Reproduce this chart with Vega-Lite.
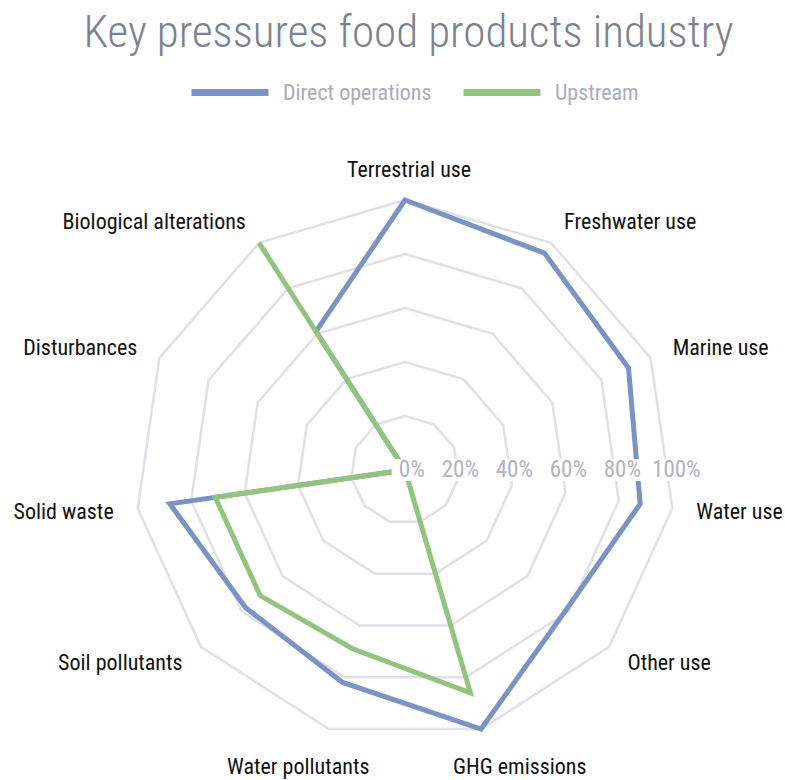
{
  "$schema": "https://vega.github.io/schema/vega-lite/v6.json",
  "width": 785,
  "height": 650,
  "padding": {"left": 0, "right": 0, "top": 10, "bottom": 0},
  "autosize": {"type": "pad"},
  "background": "white",
  "title": {
    "text": "Key pressures food products industry",
    "fontSize": 45,
    "font": "Roboto Condensed",
    "fontWeight": 300,
    "color": "#7b828e",
    "anchor": "middle",
    "dx": 16,
    "offset": -5
  },
  "config": {
    "view": {"stroke": null},
    "font": "Roboto Condensed"
  },
  "datasets": {
    "scores": [
      {"axis": "Terrestrial use", "series": "Direct operations", "value": 1.0},
      {"axis": "Freshwater use", "series": "Direct operations", "value": 0.955},
      {"axis": "Marine use", "series": "Direct operations", "value": 0.91},
      {"axis": "Water use", "series": "Direct operations", "value": 0.88},
      {"axis": "Other use", "series": "Direct operations", "value": 0.79},
      {"axis": "GHG emissions", "series": "Direct operations", "value": 1.0},
      {"axis": "Water pollutants", "series": "Direct operations", "value": 0.82},
      {"axis": "Soil pollutants", "series": "Direct operations", "value": 0.78},
      {"axis": "Solid waste", "series": "Direct operations", "value": 0.88},
      {"axis": "Disturbances", "series": "Direct operations", "value": 0.0},
      {"axis": "Biological alterations", "series": "Direct operations", "value": 0.61},
      {"axis": "Terrestrial use", "series": "Upstream", "value": 0.0},
      {"axis": "Freshwater use", "series": "Upstream", "value": 0.0},
      {"axis": "Marine use", "series": "Upstream", "value": 0.0},
      {"axis": "Water use", "series": "Upstream", "value": 0.0},
      {"axis": "Other use", "series": "Upstream", "value": 0.0},
      {"axis": "GHG emissions", "series": "Upstream", "value": 0.86},
      {"axis": "Water pollutants", "series": "Upstream", "value": 0.69},
      {"axis": "Soil pollutants", "series": "Upstream", "value": 0.71},
      {"axis": "Solid waste", "series": "Upstream", "value": 0.71},
      {"axis": "Disturbances", "series": "Upstream", "value": 0.0},
      {"axis": "Biological alterations", "series": "Upstream", "value": 1.0}
    ],
    "axes": [
      {"axis": "Terrestrial use", "levels": [0.2, 0.4, 0.6, 0.8, 1.0]},
      {"axis": "Freshwater use", "levels": [0.2, 0.4, 0.6, 0.8, 1.0]},
      {"axis": "Marine use", "levels": [0.2, 0.4, 0.6, 0.8, 1.0]},
      {"axis": "Water use", "levels": [0.2, 0.4, 0.6, 0.8, 1.0]},
      {"axis": "Other use", "levels": [0.2, 0.4, 0.6, 0.8, 1.0]},
      {"axis": "GHG emissions", "levels": [0.2, 0.4, 0.6, 0.8, 1.0]},
      {"axis": "Water pollutants", "levels": [0.2, 0.4, 0.6, 0.8, 1.0]},
      {"axis": "Soil pollutants", "levels": [0.2, 0.4, 0.6, 0.8, 1.0]},
      {"axis": "Solid waste", "levels": [0.2, 0.4, 0.6, 0.8, 1.0]},
      {"axis": "Disturbances", "levels": [0.2, 0.4, 0.6, 0.8, 1.0]},
      {"axis": "Biological alterations", "levels": [0.2, 0.4, 0.6, 0.8, 1.0]}
    ],
    "ticks": [
      {"level": 0.0, "label": "0%"},
      {"level": 0.2, "label": "20%"},
      {"level": 0.4, "label": "40%"},
      {"level": 0.6, "label": "60%"},
      {"level": 0.8, "label": "80%"},
      {"level": 1.0, "label": "100%"}
    ]
  },
  "encoding": {
    "x": {"field": "px", "type": "quantitative", "axis": null, "scale": {"domain": [-1.5, 1.4074], "nice": false, "zero": false}},
    "y": {"field": "py", "type": "quantitative", "axis": null, "scale": {"domain": [-1.1481, 1.2593], "nice": false, "zero": false}}
  },
  "layer": [
    {
      "data": {"name": "axes"},
      "transform": [
        {"flatten": ["levels"], "as": ["level"]},
        {"calculate": "indexof(['Terrestrial use','Freshwater use','Marine use','Water use','Other use','GHG emissions','Water pollutants','Soil pollutants','Solid waste','Disturbances','Biological alterations'], datum.axis)", "as": "i"},
        {"calculate": "datum.level * sin(2 * PI * datum.i / 11)", "as": "px"},
        {"calculate": "datum.level * cos(2 * PI * datum.i / 11)", "as": "py"}
      ],
      "mark": {"type": "line", "interpolate": "linear-closed", "stroke": "#e0e0e6", "strokeWidth": 2.5},
      "encoding": {
        "detail": {"field": "level", "type": "nominal"},
        "order": {"field": "i", "type": "quantitative"}
      }
    },
    {
      "data": {"name": "scores"},
      "transform": [
        {"filter": "datum.series === 'Direct operations'"},
        {"calculate": "indexof(['Terrestrial use','Freshwater use','Marine use','Water use','Other use','GHG emissions','Water pollutants','Soil pollutants','Solid waste','Disturbances','Biological alterations'], datum.axis)", "as": "i"},
        {"calculate": "datum.value * sin(2 * PI * datum.i / 11)", "as": "px"},
        {"calculate": "datum.value * cos(2 * PI * datum.i / 11)", "as": "py"}
      ],
      "mark": {"type": "line", "interpolate": "linear-closed", "strokeWidth": 5, "strokeJoin": "miter"},
      "encoding": {
        "order": {"field": "i", "type": "quantitative"},
        "color": {
          "field": "series", "type": "nominal",
          "scale": {"domain": ["Direct operations", "Upstream"], "range": ["#7a93c4", "#93c47d"]},
          "legend": {"orient": "none", "legendX": 188, "legendY": -79.5, "direction": "horizontal", "title": null, "symbolType": "stroke", "symbolSize": 5929, "symbolStrokeWidth": 7, "labelFontSize": 22, "labelFont": "Roboto Condensed", "labelLimit": 0, "labelColor": "#a9acb9", "labelOffset": 11, "columnPadding": 17, "padding": 0}
        }
      }
    },
    {
      "data": {"name": "scores"},
      "transform": [
        {"filter": "datum.series === 'Upstream'"},
        {"calculate": "indexof(['Terrestrial use','Freshwater use','Marine use','Water use','Other use','GHG emissions','Water pollutants','Soil pollutants','Solid waste','Disturbances','Biological alterations'], datum.axis)", "as": "i"},
        {"calculate": "datum.value * sin(2 * PI * datum.i / 11)", "as": "px"},
        {"calculate": "datum.value * cos(2 * PI * datum.i / 11)", "as": "py"}
      ],
      "mark": {"type": "line", "interpolate": "linear-closed", "strokeWidth": 5, "strokeJoin": "miter"},
      "encoding": {
        "order": {"field": "i", "type": "quantitative"},
        "color": {
          "field": "series", "type": "nominal",
          "scale": {"domain": ["Direct operations", "Upstream"], "range": ["#7a93c4", "#93c47d"]},
          "legend": {"orient": "none", "legendX": 188, "legendY": -79.5, "direction": "horizontal", "title": null, "symbolType": "stroke", "symbolSize": 5929, "symbolStrokeWidth": 7, "labelFontSize": 22, "labelFont": "Roboto Condensed", "labelLimit": 0, "labelColor": "#a9acb9", "labelOffset": 11, "columnPadding": 17, "padding": 0}
        }
      }
    },
    {
      "data": {"name": "ticks"},
      "transform": [
        {"calculate": "datum.level === 0 ? 0.025 : datum.level + 0.005", "as": "px"},
        {"calculate": "0", "as": "py"}
      ],
      "mark": {"type": "point", "shape": "M-1,-0.55L1,-0.55L1,0.55L-1,0.55Z", "size": 1600, "filled": true, "fill": "white", "opacity": 1, "strokeWidth": 0}
    },
    {
      "data": {"name": "ticks"},
      "transform": [
        {"calculate": "datum.level === 0 ? 0.025 : datum.level + 0.005", "as": "px"},
        {"calculate": "0", "as": "py"}
      ],
      "mark": {"type": "text", "fontSize": 23, "font": "Roboto Condensed", "color": "#b1b3c0", "align": "center", "baseline": "middle"},
      "encoding": {"text": {"field": "label"}}
    },
    {
      "data": {"name": "axes"},
      "transform": [
        {"calculate": "indexof(['Terrestrial use','Freshwater use','Marine use','Water use','Other use','GHG emissions','Water pollutants','Soil pollutants','Solid waste','Disturbances','Biological alterations'], datum.axis)", "as": "i"},
        {"calculate": "sin(2 * PI * datum.i / 11)", "as": "s"},
        {"calculate": "cos(2 * PI * datum.i / 11)", "as": "c"},
        {"filter": "datum.s > 0.3"},
        {"calculate": "1.09 * datum.s", "as": "px"},
        {"calculate": "1.09 * datum.c", "as": "py"}
      ],
      "mark": {"type": "text", "fontSize": 22, "font": "Roboto Condensed", "color": "#111111", "align": "left", "baseline": "middle"},
      "encoding": {"text": {"field": "axis"}}
    },
    {
      "data": {"name": "axes"},
      "transform": [
        {"calculate": "indexof(['Terrestrial use','Freshwater use','Marine use','Water use','Other use','GHG emissions','Water pollutants','Soil pollutants','Solid waste','Disturbances','Biological alterations'], datum.axis)", "as": "i"},
        {"calculate": "sin(2 * PI * datum.i / 11)", "as": "s"},
        {"calculate": "cos(2 * PI * datum.i / 11)", "as": "c"},
        {"filter": "datum.s < -0.3"},
        {"calculate": "1.09 * datum.s", "as": "px"},
        {"calculate": "1.09 * datum.c", "as": "py"}
      ],
      "mark": {"type": "text", "fontSize": 22, "font": "Roboto Condensed", "color": "#111111", "align": "right", "baseline": "middle"},
      "encoding": {"text": {"field": "axis"}}
    },
    {
      "data": {"name": "axes"},
      "transform": [
        {"calculate": "indexof(['Terrestrial use','Freshwater use','Marine use','Water use','Other use','GHG emissions','Water pollutants','Soil pollutants','Solid waste','Disturbances','Biological alterations'], datum.axis)", "as": "i"},
        {"calculate": "sin(2 * PI * datum.i / 11)", "as": "s"},
        {"calculate": "cos(2 * PI * datum.i / 11)", "as": "c"},
        {"filter": "abs(datum.s) <= 0.3"},
        {"calculate": "1.12 * 1.3 * datum.s + 0.015", "as": "px"},
        {"calculate": "datum.c > 0 ? 1.11 * datum.c : 1.145 * datum.c", "as": "py"}
      ],
      "mark": {"type": "text", "fontSize": 22, "font": "Roboto Condensed", "color": "#111111", "align": "center", "baseline": "middle"},
      "encoding": {"text": {"field": "axis"}}
    }
  ]
}
